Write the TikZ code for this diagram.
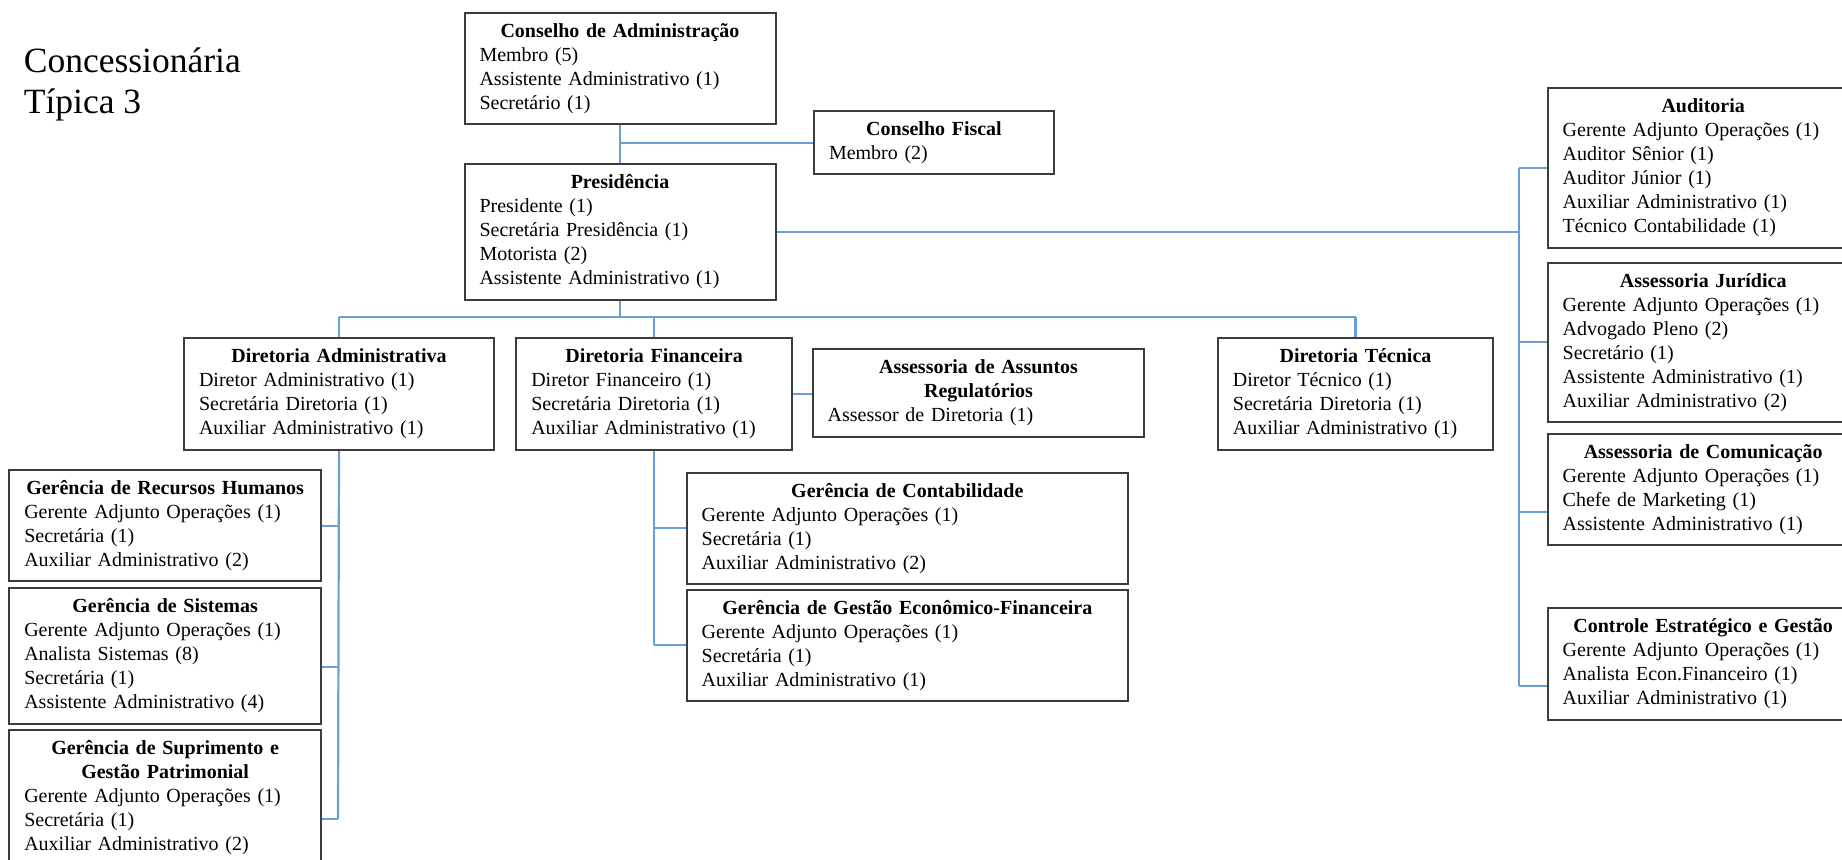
\documentclass[tikz,border=0pt]{standalone}
\usepackage{fontspec}
\setmainfont{Liberation Serif}
\usetikzlibrary{calc}
\definecolor{boxgray}{RGB}{60,60,60}
\definecolor{linkblue}{RGB}{108,158,214}
\pgfdeclarelayer{bg}
\pgfsetlayers{bg,main}
% centred bold heading line inside a unit box
\newcommand\hd[1]{\strut\makebox[\linewidth][c]{\bfseries #1}}

\begin{document}
\begin{tikzpicture}[x=0.5pt,y=-0.5pt,
  orgbox/.style={draw=boxgray, line width=1pt, fill=white, anchor=north west,
    inner xsep=7.5pt, inner ysep=3.8pt, align=left, text width=#1,
    font=\fontsize{10}{12}\selectfont,
    execute at begin node=\strut, execute at end node=\strut},
  link/.style={draw=linkblue, line width=1.1pt}]

\useasboundingbox (0,0) rectangle (1842,859);
\clip (0,0) rectangle (1842,859);

% page heading
\node[anchor=north west, inner sep=0pt, align=left,
  font=\fontsize{17.75}{20.8}\selectfont] (heading) at (23.5,42.6)
  {\strut Concessionária\\\strut Típica 3};

% board and presidency
\node[orgbox=140.5pt] (ca) at (463.5,11.7)
  {\hd{Conselho de Administração}\\Membro (5)\\Assistente Administrativo (1)\\Secretário (1)};
\node[orgbox=105pt] (cf) at (813,110)
  {\hd{Conselho Fiscal}\\Membro (2)};
\node[orgbox=140.5pt] (pres) at (463.5,163.3)
  {\hd{Presidência}\\Presidente (1)\\Secretária Presidência (1)\\Motorista (2)\\Assistente Administrativo (1)};

% staff units on the right
\node[orgbox=140.5pt] (aud) at (1546.7,87.3)
  {\hd{Auditoria}\\Gerente Adjunto Operações (1)\\Auditor Sênior (1)\\Auditor Júnior (1)\\Auxiliar Administrativo (1)\\Técnico Contabilidade (1)};
\node[orgbox=140.5pt] (aj) at (1546.7,261.7)
  {\hd{Assessoria Jurídica}\\Gerente Adjunto Operações (1)\\Advogado Pleno (2)\\Secretário (1)\\Assistente Administrativo (1)\\Auxiliar Administrativo (2)};
\node[orgbox=140.5pt] (ac) at (1546.7,432.7)
  {\hd{Assessoria de Comunicação}\\Gerente Adjunto Operações (1)\\Chefe de Marketing (1)\\Assistente Administrativo (1)};
\node[orgbox=140.5pt] (ceg) at (1546.7,607.3)
  {\hd{Controle Estratégico e Gestão}\\Gerente Adjunto Operações (1)\\Analista Econ.Financeiro (1)\\Auxiliar Administrativo (1)};

% directorates
\node[orgbox=140pt] (da) at (183,337.3)
  {\hd{Diretoria Administrativa}\\Diretor Administrativo (1)\\Secretária Diretoria (1)\\Auxiliar Administrativo (1)};
\node[orgbox=122.75pt] (df) at (515.3,337.3)
  {\hd{Diretoria Financeira}\\Diretor Financeiro (1)\\Secretária Diretoria (1)\\Auxiliar Administrativo (1)};
\node[orgbox=150.85pt] (aar) at (811.7,348.3)
  {\hd{Assessoria de Assuntos}\\\hd{Regulatórios}\\Assessor de Diretoria (1)};
\node[orgbox=122.6pt] (dt) at (1216.9,337.3)
  {\hd{Diretoria Técnica}\\Diretor Técnico (1)\\Secretária Diretoria (1)\\Auxiliar Administrativo (1)};

% managements under the administrative directorate
\node[orgbox=140.85pt] (grh) at (8.3,469.1)
  {\hd{Gerência de Recursos Humanos}\\Gerente Adjunto Operações (1)\\Secretária (1)\\Auxiliar Administrativo (2)};
\node[orgbox=140.85pt] (gs) at (8.3,587.3)
  {\hd{Gerência de Sistemas}\\Gerente Adjunto Operações (1)\\Analista Sistemas (8)\\Secretária (1)\\Assistente Administrativo (4)};
\node[orgbox=140.85pt] (gsp) at (8.3,729.3)
  {\hd{Gerência de Suprimento e}\\\hd{Gestão Patrimonial}\\Gerente Adjunto Operações (1)\\Secretária (1)\\Auxiliar Administrativo (2)};

% managements under the financial directorate
\node[orgbox=205.65pt] (gc) at (685.7,471.7)
  {\hd{Gerência de Contabilidade}\\Gerente Adjunto Operações (1)\\Secretária (1)\\Auxiliar Administrativo (2)};
\node[orgbox=205.65pt] (ggef) at (685.7,588.7)
  {\hd{Gerência de Gestão Econômico-Financeira}\\Gerente Adjunto Operações (1)\\Secretária (1)\\Auxiliar Administrativo (1)};

% junction points of the connector buses
\coordinate (hbus) at (0,317.3);
\coordinate (rtop) at (1519.3,0);
\coordinate (acport) at (1519.3,511.7);
\coordinate (cegport) at (1519.3,686);
\coordinate (gsport) at (338,666.7);
\coordinate (gspport) at (338,819);

\begin{pgfonlayer}{bg}
  \fill[white] (0,0) rectangle (1842,859);
  % board -> presidency, fiscal council
  \draw[link] (ca.south) -- (pres.north);
  \draw[link] (ca.south |- cf.west) -- (cf.west);
  % presidency -> directorates
  \draw[link] (pres.south) -- (pres.south |- hbus);
  \draw[link] (da.north |- hbus) -- (dt.north |- hbus);
  \draw[link] (da.north |- hbus) -- (da.north);
  \draw[link] (df.north |- hbus) -- (df.north);
  \draw[link] (dt.north |- hbus) -- (dt.north);
  % presidency -> staff units
  \draw[link] (pres.east) -- (pres.east -| rtop);
  \draw[link] (rtop |- aud.west) -- (cegport);
  \draw[link] (rtop |- aud.west) -- (aud.west);
  \draw[link] (rtop |- aj.west) -- (aj.west);
  \draw[link] (acport) -- (acport -| ac.west);
  \draw[link] (cegport) -- (cegport -| ceg.west);
  % administrative directorate
  \draw[link] (da.south) -- (gspport);
  \draw[link] (da.south |- grh.east) -- (grh.east);
  \draw[link] (gsport) -- (gsport -| gs.east);
  \draw[link] (gspport) -- (gspport -| gsp.east);
  % financial directorate
  \draw[link] (df.east) -- (df.east -| aar.west);
  \draw[link] (df.south) -- (df.south |- ggef.west);
  \draw[link] (df.south |- gc.west) -- (gc.west);
  \draw[link] (df.south |- ggef.west) -- (ggef.west);
\end{pgfonlayer}
\end{tikzpicture}
\end{document}
